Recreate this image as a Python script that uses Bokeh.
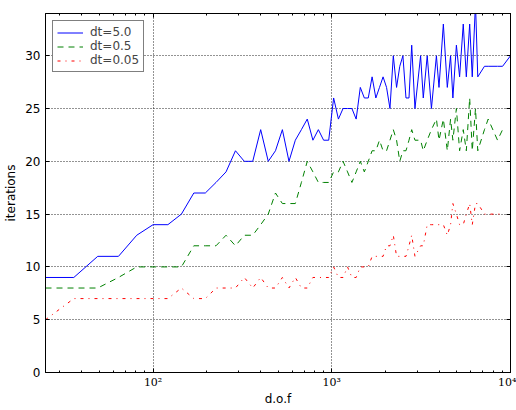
from bokeh.plotting import figure
from bokeh.models import (Range1d, LinearAxis, LogAxis, FixedTicker, LogTicker,
                          CustomJSTickFormatter)
from bokeh.embed import file_html
from bokeh.resources import INLINE

nan = float("nan")

# degrees of freedom (x values)
dof = [25, 36, 49, 64, 81, 100, 121, 144, 169, 196, 225, 256, 289, 324, 361, 400,
       441, 484, 529, 576, 625, 676, 729, 784, 841, 900, 961, 1024, 1089, 1156, 1225,
       1296, 1369, 1444, 1521, 1600, 1681, 1764, 1849, 1936, 2025, 2116, 2209, 2304,
       2401, 2500, 2601, 2704, 2800, 2920, 3140, 3250, 3420, 3610, 3850, 3980, 4210,
       4430, 4620, 4760, 4980, 5190, 5440, 5660, 5910, 6110, 6370, 6560, 7150, 7500,
       8460, 9030, 10000]

iters_dt5 = [9, 9, 11, 11, 13, 14, 14, 15, 17, 17,
             18, 19, 21, 20, 20, 23, 20, 21, 23, 20,
             22, 23, 24, 22, 23, 22, 22, 26, 24, 25,
             25, 25, 24, 27, 26, 26, 28, 26, 27, 28,
             27, 25, 30, 27, 29, 30, 26, 26,
             31, 25, 30, 26, 30, 25, 30, 27, 33, 27,
             30, 26, 31, 28, 33, 28, 33, 28, 35, 28,
             29, 29, 29, 29, 30]

iters_dt05 = [8, 8, 8, 9, 10, 10, 10, 10, 12, 12,
              12, 13, 12, 13, 13, 14, 15, 17, 16, 16,
              16, 18, 20, 19, 18, 18, 18, 19, 19, 20,
              19, 18, 19, 20, 19, 20, 21, 21, 22, 21,
              21, 22, 23, 22, 20, 21, 21, 22,
              23, 22, 22, 21, 22, 23, 24, 22, 24, 21,
              24, 22, 25, 21, 23, 21, 26, 21, 25, 21,
              23, 24, 22, 23, nan]

iters_dt005 = [5, 7, 7, 7, 7, 7, 7, 8, 7, 7,
               8, 8, 8, 9, 8, 9, 8, 8, 9, 8,
               9, 8, 8, 9, 9, 9, 9, 10, 9, 9,
               10, 9, 9, 10, 10, 10, 11, 11, 11, 11,
               12, 12, 13, 11, 11, 11, 11, 12,
               13, 11, 12, 12, 14, 14, 14, 14, 14, 13,
               14, 16, 15, 14, 14, 15, 16, 14, 16, 16,
               15, 15, 15, 15, nan]

labels = ["dt=5.0", "dt=0.5", "dt=0.05"]
y_ticks = [0, 5, 10, 15, 20, 25, 30]

FONT = "DejaVu Sans"

p = figure(width=516, height=410, x_axis_type="log",
           x_range=Range1d(25, 10000), y_range=Range1d(0, 34),
           output_backend="svg", toolbar_location=None,
           min_border_left=45, min_border_right=6, min_border_top=13,
           min_border_bottom=38)
p.background_fill_color = "white"
p.border_fill_color = "white"
p.outline_line_color = "black"
p.outline_line_width = 1

p.line(dof, iters_dt5, line_color="#0000ff", line_width=1, legend_label=labels[0])
p.line(dof, iters_dt05, line_color="#008000", line_width=1, line_dash="6 5",
       legend_label=labels[1])
p.line(dof, iters_dt005, line_color="#ff0000", line_width=1, line_dash="3 5 1 5",
       legend_label=labels[2])

# axes
xa = p.xaxis[0]
xa.ticker = LogTicker(num_minor_ticks=10)
xa.formatter = CustomJSTickFormatter(code="""
const e = Math.round(Math.log10(tick));
const sup = {'1':'\u00b9','2':'\u00b2','3':'\u00b3','4':'\u2074'};
return '10' + (sup[String(e)] || '');
""")
xa.axis_label = "d.o.f"
xa.major_label_text_font = "DejaVu Serif"
xa.major_label_text_font_size = "11px"
xa.major_label_standoff = 3
xa.axis_label_standoff = 0

ya = p.yaxis[0]
ya.ticker = FixedTicker(ticks=y_ticks)
ya.axis_label = "iterations"
ya.major_label_text_font = FONT
ya.major_label_text_font_size = "12px"
ya.major_label_standoff = 5
ya.axis_label_standoff = 4

for ax in (xa, ya):
    ax.axis_label_text_font = FONT
    ax.axis_label_text_font_size = "12px"
    ax.axis_label_text_font_style = "normal"
    ax.axis_line_color = "black"
    ax.major_tick_line_color = "black"
    ax.minor_tick_line_color = "black"
    ax.major_tick_in = 4
    ax.major_tick_out = 0
    ax.minor_tick_in = 2
    ax.minor_tick_out = 0
    ax.major_label_text_color = "black"
    ax.axis_label_text_color = "black"

top = LogAxis(ticker=LogTicker(num_minor_ticks=10))
right = LinearAxis(ticker=FixedTicker(ticks=y_ticks))
for ax in (top, right):
    ax.major_label_text_font_size = "1px"
    ax.major_label_text_alpha = 0
    ax.major_label_standoff = 0
    ax.axis_label_standoff = 0
    ax.major_tick_in = 4
    ax.major_tick_out = 0
    ax.minor_tick_in = 2
    ax.minor_tick_out = 0
    ax.axis_line_color = "black"
    ax.major_tick_line_color = "black"
    ax.minor_tick_line_color = "black"
p.add_layout(top, "above")
p.add_layout(right, "right")

# grid
p.xgrid.ticker = LogTicker(num_minor_ticks=0)
for g in (p.xgrid, p.ygrid):
    g.grid_line_color = "black"
    g.grid_line_dash = "1 2"
    g.grid_line_alpha = 0.85
    g.grid_line_width = 1
p.ygrid.ticker = FixedTicker(ticks=y_ticks)

# legend
lg = p.legend[0]
lg.location = "top_left"
lg.margin = 7
lg.padding = 4
lg.spacing = 0
lg.border_line_color = "black"
lg.border_line_width = 1
lg.background_fill_color = "white"
lg.background_fill_alpha = 1
lg.label_text_font = FONT
lg.label_text_font_size = "12px"
lg.label_text_line_height = 0.8
lg.label_height = 11
lg.glyph_height = 11
lg.glyph_width = 26
lg.label_standoff = 7

open("out.html", "w").write(file_html(p, INLINE))
